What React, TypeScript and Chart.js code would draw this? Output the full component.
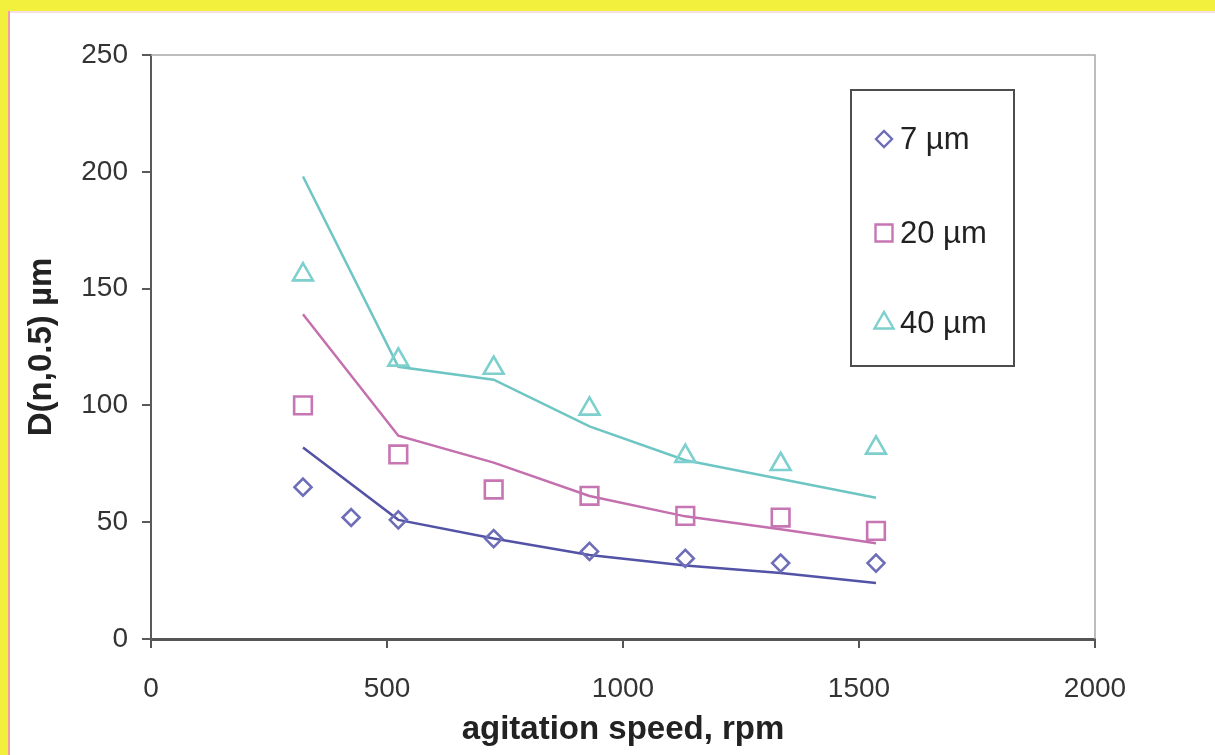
import { useEffect, useRef } from "react";
import { Chart, registerables } from "chart.js";
import { drawPoint } from "chart.js/helpers";

Chart.register(...registerables);

// ---- data ----
const speeds7 = [322, 424, 524, 726, 929, 1132, 1334, 1536];
const speeds = [322, 524, 726, 929, 1132, 1334, 1536];
const measured7 = [65, 52, 51, 43, 37.5, 34.5, 32.5, 32.5];
const fit7 = [82, 51, 43, 36, 31.5, 28.3, 24];
const measured20 = [100, 79, 64, 61.3, 52.7, 52, 46.3];
const fit20 = [139, 87, 75.5, 61.2, 52.5, 47, 41];
const measured40 = [156, 119.5, 116, 98.5, 78.3, 74.8, 81.8];
const fit40 = [198, 116.5, 111, 91, 76.5, 68.5, 60.5];
const seriesLabels = ["7 µm", "20 µm", "40 µm"];
const xTicks = [0, 500, 1000, 1500, 2000];
const yTicks = [0, 50, 100, 150, 200, 250];
const xTitle = "agitation speed, rpm";
const yTitle = "D(n,0.5) µm";

const colors = {
  c7: "#6d6db8",
  c7line: "#5252a6",
  c20: "#c776b4",
  c20line: "#c46fae",
  c40: "#7dd0cd",
  c40line: "#6dc6c3",
};

const toPts = (xs: number[], ys: number[]) => xs.map((x, i) => ({ x, y: ys[i] }));

const framePlugin = {
  id: "frameBox",
  beforeDatasetsDraw(chart: any) {
    const { ctx, chartArea } = chart;
    ctx.save();
    ctx.strokeStyle = "#a8a8a8";
    ctx.lineWidth = 1.5;
    ctx.beginPath();
    ctx.moveTo(chartArea.left, chartArea.top);
    ctx.lineTo(chartArea.right, chartArea.top);
    ctx.lineTo(chartArea.right, chartArea.bottom);
    ctx.stroke();
    ctx.restore();
  },
};

const legendPlugin = {
  id: "boxLegend",
  afterDraw(chart: any) {
    const { ctx } = chart;
    const box = { x: 851, y: 90, w: 163, h: 276 };
    const rows = [139, 233, 323];
    ctx.save();
    ctx.strokeStyle = "#4d4d4d";
    ctx.lineWidth = 2;
    ctx.strokeRect(box.x, box.y, box.w, box.h);
    const items = chart.data.datasets.filter((d: any) => d.inLegend);
    items.forEach((d: any, i: number) => {
      ctx.strokeStyle = d.borderColor;
      ctx.fillStyle = "rgba(0,0,0,0)";
      ctx.lineWidth = 2.4;
      drawPoint(
        ctx,
        { pointStyle: d.pointStyle, radius: d.legendRadius, borderWidth: 2.4, rotation: 0 } as any,
        884,
        rows[i]
      );
      ctx.fillStyle = "#222";
      ctx.font = "31px 'Liberation Sans', Arial, sans-serif";
      ctx.textBaseline = "middle";
      ctx.textAlign = "left";
      ctx.fillText(d.label, 900, rows[i] + 1);
    });
    ctx.restore();
  },
};

export default function App() {
  const ref = useRef<HTMLCanvasElement | null>(null);

  useEffect(() => {
    if (!ref.current) return;
    const font = "'Liberation Sans', Arial, sans-serif";
    const markerBase = {
      showLine: false,
      backgroundColor: "rgba(0,0,0,0)",
      pointBorderWidth: 2.6,
      pointBackgroundColor: "rgba(0,0,0,0)",
      inLegend: true,
    };
    const lineBase = {
      showLine: true,
      pointRadius: 0,
      borderWidth: 2.5,
      tension: 0,
      fill: false,
      inLegend: false,
    };
    const chart = new Chart(ref.current, {
      type: "scatter",
      data: {
        datasets: [
          {
            ...markerBase,
            label: seriesLabels[0],
            data: toPts(speeds7, measured7),
            borderColor: colors.c7,
            pointBorderColor: colors.c7,
            pointStyle: "rectRot",
            pointRadius: 8.5,
            legendRadius: 8,
          } as any,
          {
            ...markerBase,
            label: seriesLabels[1],
            data: toPts(speeds, measured20),
            borderColor: colors.c20,
            pointBorderColor: colors.c20,
            pointStyle: "rect",
            pointRadius: 12.5,
            legendRadius: 12,
          } as any,
          {
            ...markerBase,
            label: seriesLabels[2],
            data: toPts(speeds, measured40),
            borderColor: colors.c40,
            pointBorderColor: colors.c40,
            pointStyle: "triangle",
            pointRadius: 11.5,
            legendRadius: 11,
          } as any,
          { ...lineBase, label: seriesLabels[0] + " fit", data: toPts(speeds, fit7), borderColor: colors.c7line } as any,
          { ...lineBase, label: seriesLabels[1] + " fit", data: toPts(speeds, fit20), borderColor: colors.c20line } as any,
          { ...lineBase, label: seriesLabels[2] + " fit", data: toPts(speeds, fit40), borderColor: colors.c40line } as any,
        ],
      },
      options: {
        responsive: false,
        animation: false,
        devicePixelRatio: 1,
        layout: { padding: { left: 0, right: 120, top: 55, bottom: 0 } },
        plugins: {
          legend: { display: false },
          tooltip: { enabled: false },
        },
        scales: {
          x: {
            type: "linear",
            min: xTicks[0],
            max: xTicks[xTicks.length - 1],
            afterBuildTicks: (scale: any) => {
              scale.ticks = xTicks.map((v) => ({ value: v }));
            },
            afterFit: (scale: any) => {
              scale.height = 116;
            },
            ticks: {
              color: "#333",
              font: { family: font, size: 28 },
              padding: 24,
              maxRotation: 0,
              autoSkip: false,
              callback: (v: any) => String(v),
            },
            grid: {
              drawOnChartArea: false,
              drawTicks: true,
              tickLength: 9,
              color: "#555",
              lineWidth: 2,
            },
            border: { display: true, color: "#555", width: 3 },
            title: {
              display: true,
              text: xTitle,
              color: "#222",
              font: { family: font, size: 33, weight: "bold" },
              padding: { top: 0, bottom: 5 },
            },
          },
          y: {
            type: "linear",
            min: yTicks[0],
            max: yTicks[yTicks.length - 1],
            afterBuildTicks: (scale: any) => {
              scale.ticks = yTicks.map((v) => ({ value: v }));
            },
            afterFit: (scale: any) => {
              scale.width = 151;
            },
            ticks: {
              color: "#333",
              font: { family: font, size: 28 },
              padding: 14,
              autoSkip: false,
              callback: (v: any) => String(v),
            },
            grid: {
              drawOnChartArea: false,
              drawTicks: true,
              tickLength: 9,
              color: "#5a5a5a",
              lineWidth: 2,
            },
            border: { display: true, color: "#5a5a5a", width: 2 },
            title: {
              display: true,
              text: yTitle,
              color: "#222",
              font: { family: font, size: 33, weight: "bold" },
              padding: { top: 22, bottom: 0 },
            },
          },
        },
      } as any,
      plugins: [framePlugin, legendPlugin],
    });
    return () => chart.destroy();
  }, []);

  return (
    <div
      style={{
        position: "fixed",
        left: 0,
        top: 0,
        width: 1215,
        height: 755,
        background: "#ffffff",
        overflow: "hidden",
      }}
    >
      <canvas
        ref={ref}
        width={1215}
        height={755}
        style={{ position: "absolute", left: 0, top: 0, width: 1215, height: 755 }}
      />
      <div style={{ position: "absolute", left: 0, top: 0, width: 1215, height: 11, background: "#f3ef3d" }} />
      <div style={{ position: "absolute", left: 0, top: 11, width: 1215, height: 2, background: "#f5dfe6" }} />
      <div style={{ position: "absolute", left: 0, top: 0, width: 8, height: 755, background: "#f3ef3d" }} />
      <div style={{ position: "absolute", left: 8, top: 11, width: 2, height: 744, background: "#f0a0a0" }} />
    </div>
  );
}
